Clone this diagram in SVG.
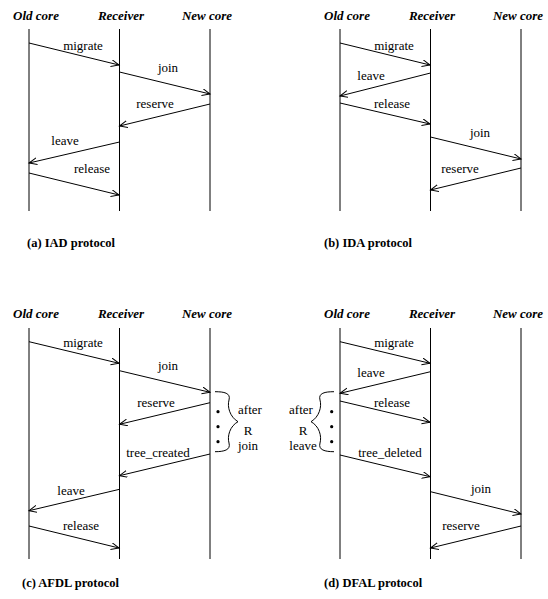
<svg xmlns="http://www.w3.org/2000/svg" width="548" height="599" viewBox="0 0 548 599">
<style>
text{font-family:'Liberation Serif','Times New Roman',Times,'DejaVu Serif',serif}
.hd{font-size:13px;font-weight:bold;font-style:italic;text-anchor:middle;fill:#000}
.lb{font-size:13px;text-anchor:middle;fill:#000}
.cap{font-size:12.5px;font-weight:bold;fill:#000}
.life{stroke:#000;stroke-width:1;fill:none}
.msg{stroke:#000;stroke-width:1;fill:none;marker-end:url(#ah)}
.brace{stroke:#000;stroke-width:1;fill:none}
</style>
<defs>
<marker id="ah" markerUnits="userSpaceOnUse" markerWidth="10" markerHeight="8" refX="8" refY="3.5" orient="auto">
<path d="M0,0 L8,3.5 L0,7" fill="none" stroke="#000" stroke-width="1"/>
</marker>
</defs>
<rect width="548" height="599" fill="#fff"/>

<g id="a-old"><text class="hd" x="36" y="20">Old core</text><line class="life" x1="29" y1="29" x2="29" y2="211"/></g>
<g id="a-recv"><text class="hd" x="121" y="20">Receiver</text><line class="life" x1="119.5" y1="29" x2="119.5" y2="211"/></g>
<g id="a-new"><text class="hd" x="207" y="20">New core</text><line class="life" x1="210" y1="29" x2="210" y2="211"/></g>
<g id="a-caption"><text class="cap" x="27" y="247">(a) IAD protocol</text></g>

<g id="b-old"><text class="hd" x="347" y="20">Old core</text><line class="life" x1="340" y1="29" x2="340" y2="211"/></g>
<g id="b-recv"><text class="hd" x="432" y="20">Receiver</text><line class="life" x1="430.5" y1="29" x2="430.5" y2="211"/></g>
<g id="b-new"><text class="hd" x="518" y="20">New core</text><line class="life" x1="521" y1="29" x2="521" y2="211"/></g>
<g id="b-caption"><text class="cap" x="324" y="247">(b) IDA protocol</text></g>

<g id="c-old"><text class="hd" x="36" y="318">Old core</text><line class="life" x1="29" y1="328" x2="29" y2="559"/></g>
<g id="c-recv"><text class="hd" x="121" y="318">Receiver</text><line class="life" x1="119.5" y1="328" x2="119.5" y2="559"/></g>
<g id="c-new"><text class="hd" x="207" y="318">New core</text><line class="life" x1="210" y1="328" x2="210" y2="559"/></g>
<g id="c-note">
<circle cx="218" cy="411.7" r="1.6"/><circle cx="218" cy="426.7" r="1.6"/><circle cx="218" cy="441.7" r="1.6"/>
<path class="brace" d="M215,391.7 C224,391.7 231,393 229,400 C227,407 230,417 238,421.7 C230,426 227,436 229,443 C231,450 224,451.7 215,451.7"/>
<text class="lb" x="250" y="414">after</text>
<text class="lb" x="248" y="435">R</text>
<text class="lb" x="248" y="450">join</text>
</g>
<g id="c-caption"><text class="cap" x="22" y="587">(c) AFDL protocol</text></g>

<g id="d-old"><text class="hd" x="347" y="318">Old core</text><line class="life" x1="340" y1="328" x2="340" y2="559"/></g>
<g id="d-recv"><text class="hd" x="432" y="318">Receiver</text><line class="life" x1="430.5" y1="328" x2="430.5" y2="559"/></g>
<g id="d-new"><text class="hd" x="518" y="318">New core</text><line class="life" x1="521" y1="328" x2="521" y2="559"/></g>
<g id="d-note">
<circle cx="331.7" cy="411.7" r="1.6"/><circle cx="331.7" cy="426.7" r="1.6"/><circle cx="331.7" cy="441.7" r="1.6"/>
<path class="brace" d="M334,391.7 C325,391.7 318,393 320,400 C322,407 319,417 311,421.7 C319,426 322,436 320,443 C318,450 325,451.7 334,451.7"/>
<text class="lb" x="301" y="414">after</text>
<text class="lb" x="303" y="435">R</text>
<text class="lb" x="303" y="450">leave</text>
</g>
<g id="d-caption"><text class="cap" x="324" y="587">(d) DFAL protocol</text></g>

<g id="connectors">
<line class="msg" x1="29" y1="43" x2="119" y2="65"/>
<line class="msg" x1="119.5" y1="72" x2="210" y2="94"/>
<line class="msg" x1="210" y1="104" x2="119.5" y2="126"/>
<line class="msg" x1="119.5" y1="142" x2="29" y2="163"/>
<line class="msg" x1="29" y1="173" x2="119" y2="195"/>
<line class="msg" x1="340" y1="43" x2="430" y2="65"/>
<line class="msg" x1="430.5" y1="73" x2="340" y2="96"/>
<line class="msg" x1="340" y1="103" x2="430" y2="124"/>
<line class="msg" x1="430.5" y1="137" x2="521" y2="159"/>
<line class="msg" x1="521" y1="168" x2="430.5" y2="190"/>
<line class="msg" x1="29" y1="341.7" x2="119" y2="363.3"/>
<line class="msg" x1="119.5" y1="370.7" x2="210" y2="392.3"/>
<line class="msg" x1="210" y1="402.7" x2="119.5" y2="424.3"/>
<line class="msg" x1="210" y1="454" x2="119.5" y2="475.7"/>
<line class="msg" x1="119.5" y1="489.3" x2="29" y2="510.7"/>
<line class="msg" x1="29" y1="526" x2="119" y2="548"/>
<line class="msg" x1="340" y1="341.7" x2="430" y2="363.3"/>
<line class="msg" x1="430.5" y1="371.7" x2="340" y2="393.3"/>
<line class="msg" x1="340" y1="401" x2="430" y2="422.3"/>
<line class="msg" x1="340" y1="455" x2="430" y2="476.7"/>
<line class="msg" x1="430.5" y1="491.7" x2="521" y2="514"/>
<line class="msg" x1="521" y1="526" x2="430.5" y2="548"/>
</g>

<g id="labels">
<text class="lb" x="83" y="50">migrate</text>
<text class="lb" x="168" y="72">join</text>
<text class="lb" x="155" y="108">reserve</text>
<text class="lb" x="65" y="145">leave</text>
<text class="lb" x="92" y="173">release</text>
<text class="lb" x="394" y="50">migrate</text>
<text class="lb" x="371" y="80">leave</text>
<text class="lb" x="392" y="108">release</text>
<text class="lb" x="480" y="137">join</text>
<text class="lb" x="460" y="173">reserve</text>
<text class="lb" x="83" y="347">migrate</text>
<text class="lb" x="168" y="370">join</text>
<text class="lb" x="156" y="407">reserve</text>
<text class="lb" x="158" y="457">tree_created</text>
<text class="lb" x="71" y="495">leave</text>
<text class="lb" x="81" y="530">release</text>
<text class="lb" x="394" y="347">migrate</text>
<text class="lb" x="371" y="377">leave</text>
<text class="lb" x="392" y="407">release</text>
<text class="lb" x="390" y="457">tree_deleted</text>
<text class="lb" x="481" y="493">join</text>
<text class="lb" x="461" y="530">reserve</text>
</g>
</svg>
